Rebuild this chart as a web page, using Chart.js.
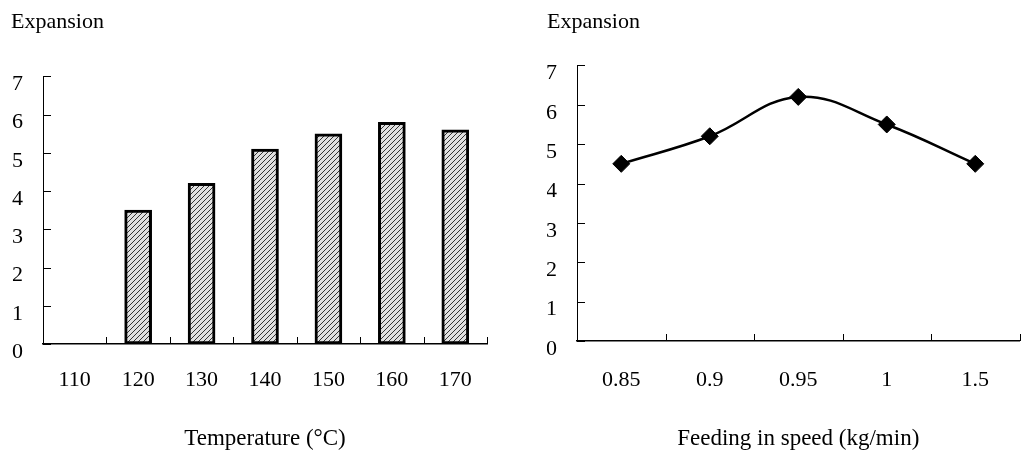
<!DOCTYPE html>
<html>
<head>
<meta charset="utf-8">
<script src="https://cdn.jsdelivr.net/npm/chart.js@4/dist/chart.umd.min.js"></script>
<style>
  body { margin: 0; background: #fff; }
  .box { position: absolute; top: 0; height: 453px; }
  #leftBox { left: 0; width: 500px; }
  #rightBox { left: 515px; width: 514px; }
</style>
</head>
<body>
<div class="box" id="leftBox"><canvas id="tempChart"></canvas></div>
<div class="box" id="rightBox"><canvas id="speedChart"></canvas></div>
<script>
// data
const tempLabels = ['110', '120', '130', '140', '150', '160', '170'];
const tempExpansion = [null, 3.5, 4.2, 5.1, 5.5, 5.8, 5.6];
const speedLabels = ['0.85', '0.9', '0.95', '1', '1.5'];
const speedExpansion = [4.5, 5.2, 6.2, 5.5, 4.5];

const FONT = "'Liberation Serif', 'Times New Roman', serif";
Chart.defaults.font.family = FONT;
Chart.defaults.font.size = 22;
Chart.defaults.color = '#000';

// hatched fill for the bars
function hatch() {
    const c = document.createElement('canvas');
    c.width = 5; c.height = 5;
    const g = c.getContext('2d');
    g.fillStyle = '#e0e0e0';
    g.fillRect(0, 0, 5, 5);
    g.strokeStyle = '#333';
    g.lineWidth = 1;
    g.beginPath();
    g.moveTo(0, 5); g.lineTo(5, 0);
    g.moveTo(-1, 1); g.lineTo(1, -1);
    g.moveTo(4, 6); g.lineTo(6, 4);
    g.stroke();
    return g.createPattern(c, 'repeat');
}

// tick marks pointing into the plot
const innerTicks = {
    id: 'innerTicks',
    afterDraw(chart) {
        const { ctx, scales: { x, y } } = chart;
        ctx.save();
        ctx.strokeStyle = '#000';
        ctx.lineWidth = 1;
        ctx.beginPath();
        y.ticks.forEach((t, i) => {
            const py = Math.round(y.getPixelForTick(i)) + 0.5;
            ctx.moveTo(y.right, py);
            ctx.lineTo(y.right + 8, py);
        });
        for (let i = 0; i <= x.ticks.length; i++) {
            const px = Math.round(x.getPixelForValue(i - 0.5)) + 0.5;
            ctx.moveTo(px, x.top);
            ctx.lineTo(px, x.top - 7);
        }
        ctx.stroke();
        ctx.restore();
    }
};

function baseOptions(o) {
    return {
        responsive: true,
        maintainAspectRatio: false,
        animation: false,
        layout: { padding: { left: o.padLeft, right: o.padRight, top: 0, bottom: 0 } },
        plugins: {
            legend: { display: false },
            tooltip: { enabled: false },
            title: {
                display: true,
                text: 'Expansion',
                align: 'start',
                font: { size: 22, weight: 'normal' },
                padding: { top: 9, bottom: o.titleGap }
            }
        },
        scales: {
            x: {
                offset: true,
                grid: { display: false, offset: true },
                border: { display: true, color: '#000', width: 1.5 },
                ticks: { padding: o.xPad, maxRotation: 0 },
                title: { display: true, text: o.xTitle, font: { size: 23 }, padding: { top: 0, bottom: 0 } },
                afterFit: (s) => { s.height = o.xHeight; }
            },
            y: {
                min: 0,
                max: 7,
                grid: { display: false },
                border: { display: true, color: '#000', width: 1 },
                ticks: { stepSize: 1, padding: 12, labelOffset: 8 },
                afterFit: (s) => { s.width = o.yWidth; }
            }
        }
    };
}

new Chart(document.getElementById('tempChart'), {
    type: 'bar',
    data: {
        labels: tempLabels,
        datasets: [{
            data: tempExpansion,
            backgroundColor: hatch(),
            borderColor: '#000',
            borderWidth: 3,
            borderSkipped: false,
            barThickness: 27
        }]
    },
    options: baseOptions({
        padLeft: 11, padRight: 13, titleGap: 41,
        xPad: 15, xHeight: 109, yWidth: 32,
        xTitle: 'Temperature (°C)'
    }),
    plugins: [innerTicks]
});

new Chart(document.getElementById('speedChart'), {
    type: 'line',
    data: {
        labels: speedLabels,
        datasets: [{
            data: speedExpansion,
            borderColor: '#000',
            borderWidth: 2.5,
            tension: 0.4,
            pointStyle: 'rectRot',
            pointRadius: 8.5,
            pointBackgroundColor: '#000',
            pointBorderColor: '#000',
            pointBorderWidth: 1
        }]
    },
    options: baseOptions({
        padLeft: 32, padRight: 2, titleGap: 30,
        xPad: 18, xHeight: 112, yWidth: 30,
        xTitle: 'Feeding in speed (kg/min)'
    }),
    plugins: [innerTicks]
});
</script>
</body>
</html>
